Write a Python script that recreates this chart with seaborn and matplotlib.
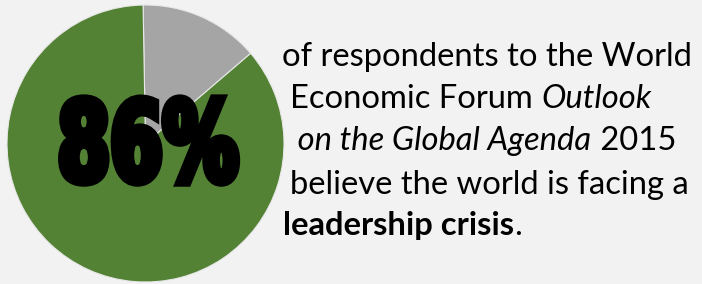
import matplotlib
matplotlib.use("Agg")
import matplotlib.pyplot as plt
import seaborn as sns
from matplotlib.patheffects import AbstractPathEffect
from matplotlib.transforms import Affine2D

# ---- data ----
slice_labels = ["Other", "Leadership crisis"]
slice_values = [14, 86]
slice_colors = ["#a5a5a5", "#548235"]
headline = "86%"
text_lines = [
    [("of respondents to the World", "normal", "normal")],
    [("Economic Forum ", "normal", "normal"), ("Outlook", "italic", "normal")],
    [(" on the Global Agenda", "italic", "normal"), (" 2015", "normal", "normal")],
    [("believe the world is facing a", "normal", "normal")],
    [("leadership crisis", "normal", "bold"), (".", "normal", "normal")],
]

BG = "#f2f2f2"
sns.set_theme(style="white", rc={"figure.facecolor": BG, "axes.facecolor": BG,
                                 "savefig.facecolor": BG})

W, H = 702, 284
fig = plt.figure(figsize=(W / 100, H / 100), dpi=100)
ax = fig.add_axes([0, 0, 1, 1])

cx, cy_img, r = 145.5, 143.5, 138.5
ax.pie(slice_values, colors=slice_colors, startangle=91, counterclock=False,
       center=(cx, H - cy_img), radius=r,
       wedgeprops=dict(edgecolor="#e8e8e8", linewidth=0.8))
ax.set_xlim(0, W)
ax.set_ylim(0, H)
ax.set_aspect("auto")
ax.axis("off")


class Squeeze(AbstractPathEffect):
    def __init__(self, artist, sx=0.63, lw=4.0):
        super().__init__()
        self.artist = artist
        self.sx = sx
        self.lw = lw

    def draw_path(self, renderer, gc, tpath, affine, rgbFace=None):
        bb = self.artist.get_window_extent(renderer)
        xc = (bb.x0 + bb.x1) / 2
        aff = affine + Affine2D().translate(-xc, 0).scale(self.sx, 1).translate(xc, 0)
        gc0 = renderer.new_gc()
        gc0.copy_properties(gc)
        gc0.set_linewidth(self.lw)
        gc0.set_foreground("black")
        gc0.set_joinstyle("miter")
        renderer.draw_path(gc0, tpath, aff, rgbFace)
        gc0.restore()


big = ax.text(148, H - 181, headline, fontsize=80, fontweight="bold",
              family="DejaVu Sans", color="black", ha="center", va="baseline")
big.set_path_effects([Squeeze(big, sx=0.68, lw=6.0)])

# ---- right text block ----
FAM = ["Lato", "DejaVu Sans"]
baselines = [66, 108, 150, 194, 235]
starts = [282, 290.5, 290.5, 290.5, 283]

fig.canvas.draw()
renderer = fig.canvas.get_renderer()
probe = ax.text(0, 0, text_lines[0][0][0], fontsize=20, family=FAM)
wpx = probe.get_window_extent(renderer).width
probe.remove()
fs = 20 * (693 - 282) / wpx

for line, yb, x0 in zip(text_lines, baselines, starts):
    x = x0
    for s, style, weight in line:
        t = ax.text(x, H - yb, s, fontsize=fs, family=FAM, fontstyle=style,
                    fontweight=weight, color="black", ha="left", va="baseline")
        fig.canvas.draw()
        bb = t.get_window_extent(renderer)
        x = bb.x1

fig.savefig("out.png", dpi=100, facecolor=BG)
